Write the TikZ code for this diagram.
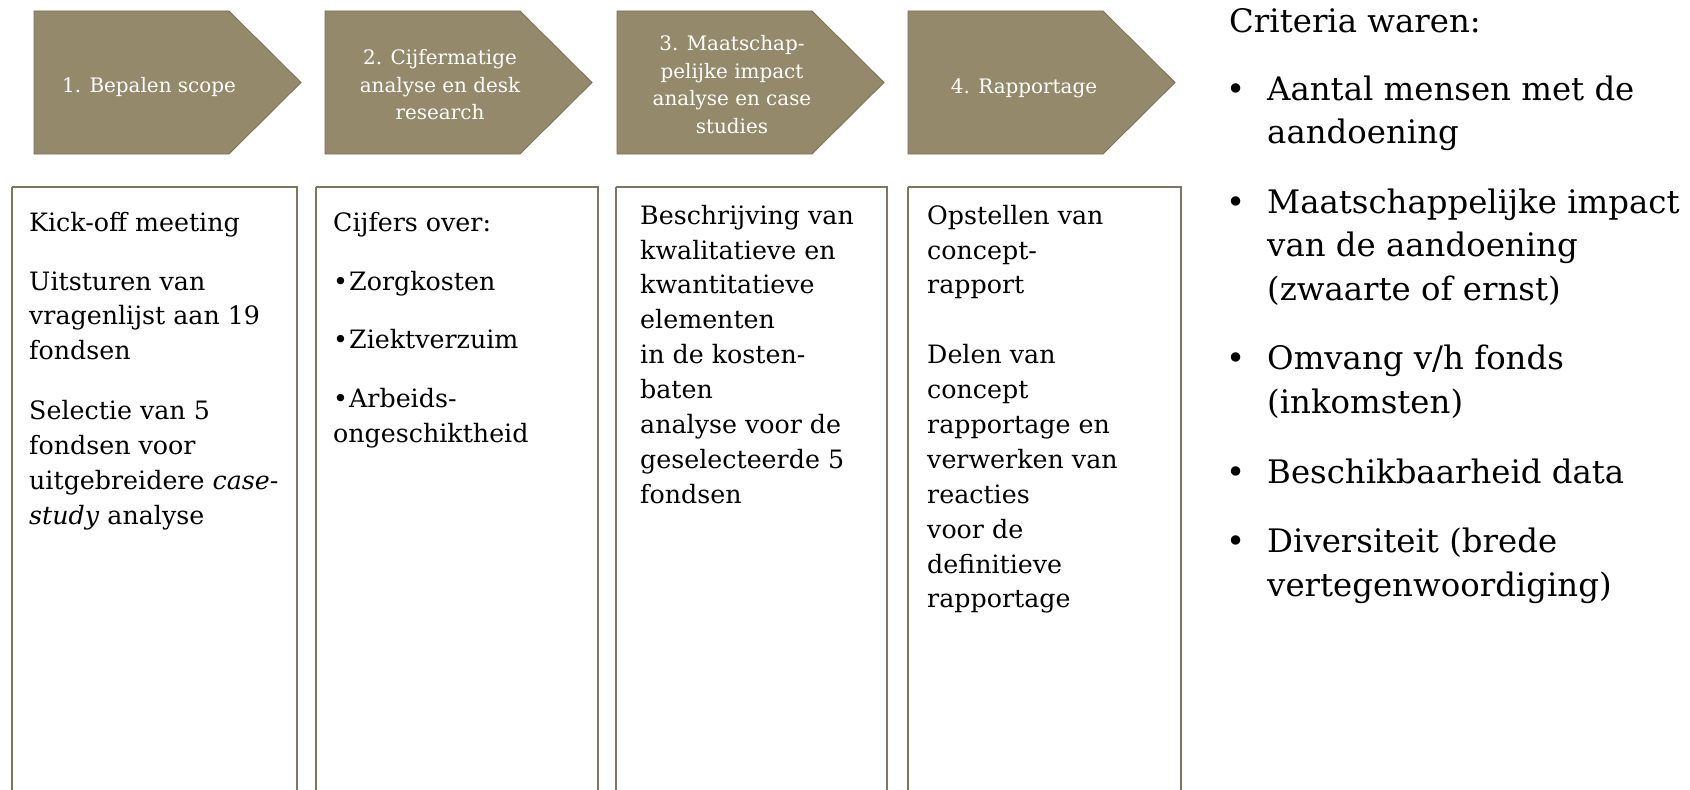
\documentclass[tikz,border=0pt]{standalone}
\usepackage{fontspec}
\setmainfont{DejaVu Serif}
\definecolor{phasefill}{RGB}{148,138,107}
\definecolor{phaseedge}{RGB}{120,110,84}
\definecolor{boxedge}{RGB}{125,117,97}
\begin{document}
\begin{tikzpicture}[x=1bp,y=-1bp,
  phase/.style={fill=phasefill,draw=phaseedge,line width=0.8bp},
  phasetext/.style={text=white,align=center,inner sep=0pt,anchor=north,font=\fontsize{20}{27.5}\selectfont},
  colbox/.style={draw=boxedge,line width=1.4bp},
  coltext/.style={align=left,inner sep=0pt,anchor=north west,font=\fontsize{25.4}{35}\selectfont},
  crit/.style={align=left,inner sep=0pt,anchor=north west,font=\fontsize{32.5}{43.5}\selectfont}]
\useasboundingbox (0,0) rectangle (1690,790);
\clip (0,0) rectangle (1690,790);
\fill[white] (0,0) rectangle (1690,790);
% phase arrows
\foreach \x in {34,325,617,908}{
  \draw[phase] (\x,11) -- (\x+195,11) -- (\x+267,82.5) -- (\x+195,154) -- (\x,154) -- cycle;
}
\node[phasetext] (p1) at (149,75) {\rule{0pt}{17bp}1. Bepalen scope};
\node[phasetext] (p2) at (440,47.5) {\rule{0pt}{17bp}2. Cijfermatige\\ analyse en desk\\ research};
\node[phasetext] (p3) at (732,33.75) {\rule{0pt}{17bp}3. Maatschap-\\ pelijke impact\\ analyse en case\\ studies};
\node[phasetext] (p4) at (1024,76) {\rule{0pt}{17bp}4. Rapportage};
% columns
\draw[colbox] (12,187) -- (12,800) (12,187) -- (297,187) -- (297,800);
\draw[colbox] (316,187) -- (316,800) (316,187) -- (598,187) -- (598,800);
\draw[colbox] (616,187) -- (616,800) (616,187) -- (887,187) -- (887,800);
\draw[colbox] (908,187) -- (908,800) (908,187) -- (1181,187) -- (1181,800);
\node[coltext] (t1) at (29,209.5) {\rule{0pt}{21.5bp}Kick-off meeting\\[24bp]
  Uitsturen van\\ vragenlijst aan 19\\ fondsen\\[25bp]
  Selectie van 5\\ fondsen voor\\ uitgebreidere \textit{case-}\\ \textit{study} analyse};
\node[coltext] (t2) at (333,209.5) {\rule{0pt}{21.5bp}Cijfers over:\\[24bp]
  \makebox[16bp][l]{•}Zorgkosten\\[24bp]
  \makebox[16bp][l]{•}Ziektverzuim\\[24bp]
  \makebox[16bp][l]{•}Arbeids-\\ ongeschiktheid};
\node[coltext] (t3) at (640,202.5) {\rule{0pt}{21.5bp}Beschrijving van\\ kwalitatieve en\\ kwantitatieve\\ elementen\\ in de kosten-\\ baten\\ analyse voor de\\ geselecteerde 5\\ fondsen};
\node[coltext] (t4) at (927,202.5) {\rule{0pt}{21.5bp}Opstellen van\\ concept-\\ rapport\\[35bp]
  Delen van\\ concept\\ rapportage en\\ verwerken van\\ reacties\\ voor de\\ definitieve\\ rapportage};
% criteria
\node[crit] (ch) at (1229,5) {\rule{0pt}{27bp}Criteria waren:};
\node[crit] (cl) at (1267,73) {\rule{0pt}{27bp}\llap{•\hspace{22bp}}Aantal mensen met de\\ aandoening\\[26.5bp]
  \llap{•\hspace{22bp}}Maatschappelijke impact\\ van de aandoening\\ (zwaarte of ernst)\\[26.5bp]
  \llap{•\hspace{22bp}}Omvang v/h fonds\\ (inkomsten)\\[26.5bp]
  \llap{•\hspace{22bp}}Beschikbaarheid data\\[26.5bp]
  \llap{•\hspace{22bp}}Diversiteit (brede\\ vertegenwoordiging)};
\end{tikzpicture}
\end{document}
